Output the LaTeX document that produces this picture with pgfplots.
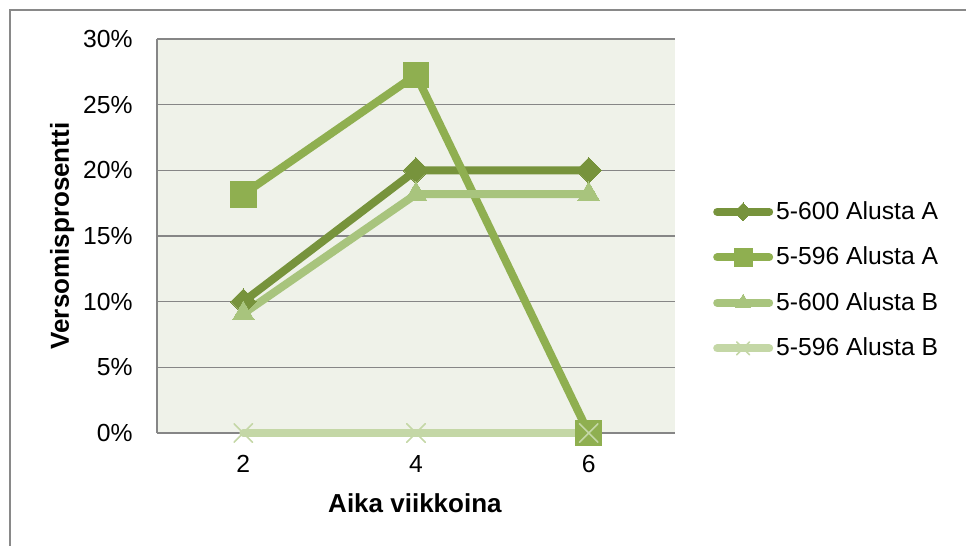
\documentclass[border=0pt]{standalone}
\usepackage{pgfplots}
\pgfplotsset{compat=1.18}
\usepackage{fontspec}
\setmainfont{Liberation Sans}

\definecolor{sarjaI}{HTML}{77933C}
\definecolor{sarjaII}{HTML}{8FAF50}
\definecolor{sarjaIII}{HTML}{A8C47D}
\definecolor{sarjaIV}{HTML}{C4D7A6}
\definecolor{tausta}{HTML}{EFF2E9}
\definecolor{ruudukko}{HTML}{868686}
\definecolor{kehys}{HTML}{898989}

\newcommand{\tekstikoko}{\fontsize{12.35}{14.8}\selectfont}
\newcommand{\otsikkokoko}{\fontsize{13}{15.6}\selectfont\bfseries}

\begin{document}
\begin{tikzpicture}
% canvas in pixel-like units, origin at the top left
\begin{scope}[x=0.5pt,y=-0.5pt]
  \useasboundingbox (0,0) rectangle (966,546);
  \draw[kehys, line width=1pt] (9.5,9.5) rectangle (1000,600);
\end{scope}

\begin{axis}[
  at={(78.5pt,-216.5pt)}, anchor=south west,
  scale only axis, width=259pt, height=197pt,
  xmin=1, xmax=7, ymin=0, ymax=30,
  enlargelimits=false, clip=false,
  axis background/.style={fill=tausta},
  axis line style={draw=none},
  major tick length=0pt,
  xtick={2,4,6}, xticklabels={2,4,6},
  ytick={0,5,10,15,20,25,30},
  yticklabels={0\%,5\%,10\%,15\%,20\%,25\%,30\%},
  ticklabel style={font=\tekstikoko},
  yticklabel style={inner sep=0pt, anchor=east, xshift=-12pt},
  xticklabel style={inner sep=0pt, anchor=north, yshift=-11pt},
  ymajorgrids, grid style={ruudukko, line width=0.65pt},
  extra description/.code={
    \draw[ruudukko, line width=0.9pt] (rel axis cs:0,0) -- (rel axis cs:0,1);
  },
  xlabel={Aika viikkoina},
  ylabel={Versomisprosentti},
  every axis x label/.style={at={(rel axis cs:0.498,-0.178)}, anchor=center, font=\otsikkokoko},
  every axis y label/.style={at={(rel axis cs:-0.183,0.5)}, anchor=center, rotate=90, font=\otsikkokoko},
  every axis plot/.append style={line width=4pt, line cap=round, line join=round},
  legend cell align=left,
  legend style={at={(rel axis cs:1.073,0.388)}, anchor=west, draw=none, fill=none,
    inner sep=0pt, row sep=10.75pt, column sep=1.5pt, font=\tekstikoko,
    nodes={inner sep=0pt, anchor=west}},
  legend image code/.code={
    \path[draw=none, fill=none] (0pt,-6pt) rectangle (30pt,6pt);
    \draw[#1, /tikz/every mark/.append style={scale=0.7}, mark repeat=2, mark phase=2]
      plot coordinates {(2pt,0pt) (15pt,0pt) (28pt,0pt)};
  },
]
\addplot[sarjaI, mark=square*, mark size=4.5pt,
  mark options={rotate=45, fill=sarjaI, draw=sarjaI, line width=0pt}]
  coordinates {(2,10) (4,20) (6,20)};
\addlegendentry{5-600 Alusta A}

\addplot[sarjaII, mark=square*, mark size=6.4pt,
  mark options={fill=sarjaII, draw=sarjaII, line width=0pt}]
  coordinates {(2,18.18) (4,27.27) (6,0)};
\addlegendentry{5-596 Alusta A}

\addplot[sarjaIII, mark=triangle*, mark size=6.25pt,
  mark options={fill=sarjaIII, draw=sarjaIII, line width=0pt}]
  coordinates {(2,9.09) (4,18.18) (6,18.18)};
\addlegendentry{5-600 Alusta B}

\addplot[sarjaIV, mark=x, mark size=6.5pt,
  mark options={draw=sarjaIV, line width=0.8pt}]
  coordinates {(2,0) (4,0) (6,0)};
\addlegendentry{5-596 Alusta B}
\end{axis}
\end{tikzpicture}
\end{document}
